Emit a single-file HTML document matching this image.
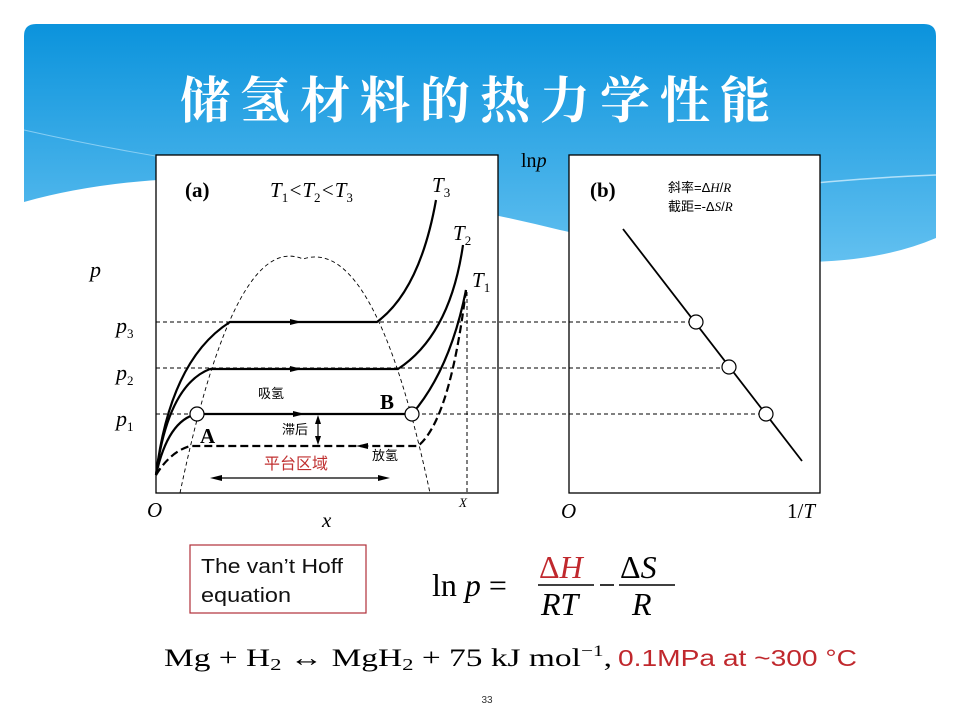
<!DOCTYPE html>
<html><head><meta charset="utf-8"><style>
body{margin:0;background:#fff;}
svg{display:block;}
.ser{font-family:"Liberation Serif","Noto Serif CJK SC",serif;}
.cjk{font-family:"Liberation Sans","Noto Sans CJK SC",sans-serif;}
</style></head><body>
<svg width="960" height="720" viewBox="0 0 960 720" xmlns="http://www.w3.org/2000/svg">
<defs>
<linearGradient id="bg" x1="0" y1="0" x2="0" y2="1">
<stop offset="0" stop-color="#0b93dc"/><stop offset="1" stop-color="#62c0f0"/>
</linearGradient>
</defs>
<path d="M36,24 H924 Q936,24 936,36 V238 Q880,262 800,262 Q650,250 560,230 Q420,195 250,178 Q120,175 24,202 V36 Q24,24 36,24Z" fill="url(#bg)"/>
<path d="M640,205 Q800,180 936,175" stroke="#cfeefc" stroke-width="1.5" fill="none" opacity=".8"/>
<path d="M24,130 Q200,170 420,190" stroke="#bde6fb" stroke-width="1" fill="none" opacity=".6"/>
<text x="480" y="118" text-anchor="middle" font-size="50" fill="#fff" style="font-family:'Noto Serif CJK SC','WenQuanYi Zen Hei',serif;letter-spacing:10px" font-weight="bold">储氢材料的热力学性能</text>

<rect x="156" y="155" width="342" height="338" fill="#fff" stroke="#000" stroke-width="1.3"/>
<rect x="569" y="155" width="251" height="338" fill="#fff" stroke="#000" stroke-width="1.3"/>
<g stroke="#000" stroke-width="1" stroke-dasharray="4,3" fill="none">
<line x1="156" y1="322" x2="696" y2="322"/>
<line x1="156" y1="368" x2="729" y2="368"/>
<line x1="156" y1="414" x2="766" y2="414"/>
<line x1="467" y1="292" x2="467" y2="493"/>
<path d="M180,493 Q235,230 303,259 Q375,235 430,493" stroke-width="0.9"/>
</g>
<g stroke="#000" stroke-width="2.2" fill="none">
<path d="M156,475 Q170,360 230,322 L377,322 Q420,290 436,200"/>
<path d="M156,475 Q168,385 210,369 L398,369 Q450,335 463,245"/>
<path d="M156,475 Q168,420 197,414 L412,414 Q450,370 466,290"/>
<path d="M156,475 Q170,452 190,446 L418,446 Q450,420 466,290" stroke-dasharray="8,4"/>
</g>
<g stroke="#000" stroke-width="1.2" fill="none">
<line x1="318" y1="418" x2="318" y2="442"/>
<line x1="216" y1="478" x2="384" y2="478"/>
<line x1="623" y1="229" x2="802" y2="461" stroke-width="1.8"/>
</g>
<g fill="#000">
<path d="M290,319 L302,322 L290,325z"/>
<path d="M290,366 L302,369 L290,372z"/>
<path d="M293,411 L305,414 L293,417z"/>
<path d="M368,443 L356,446 L368,449z"/>
<path d="M315,424 L318,415 L321,424z"/>
<path d="M315,436 L318,445 L321,436z"/>
<path d="M222,475 L210,478 L222,481z"/>
<path d="M378,475 L390,478 L378,481z"/>
</g>
<g fill="#fff" stroke="#000" stroke-width="1.2">
<circle cx="197" cy="414" r="7"/><circle cx="412" cy="414" r="7"/>
<circle cx="696" cy="322" r="7"/><circle cx="729" cy="367" r="7"/><circle cx="766" cy="414" r="7"/>
</g>
<g class="ser" fill="#000">
<text x="185" y="197" font-size="21" font-weight="bold">(a)</text>
<text x="590" y="197" font-size="21" font-weight="bold">(b)</text>
<text x="270" y="197" font-size="21" font-style="italic">T<tspan font-size="13" dy="5" font-style="normal">1</tspan><tspan dy="-5">&lt;T</tspan><tspan font-size="13" dy="5" font-style="normal">2</tspan><tspan dy="-5">&lt;T</tspan><tspan font-size="13" dy="5" font-style="normal">3</tspan></text>
<text x="432" y="192" font-size="21" font-style="italic">T<tspan font-size="13" dy="5" font-style="normal">3</tspan></text>
<text x="453" y="240" font-size="21" font-style="italic">T<tspan font-size="13" dy="5" font-style="normal">2</tspan></text>
<text x="472" y="287" font-size="21" font-style="italic">T<tspan font-size="13" dy="5" font-style="normal">1</tspan></text>
<text x="200" y="443" font-size="21" font-weight="bold">A</text>
<text x="380" y="409" font-size="21" font-weight="bold">B</text>
<text x="90" y="277" font-size="22" font-style="italic">p</text>
<text x="116" y="333" font-size="22" font-style="italic">p<tspan font-size="13" dy="5" font-style="normal">3</tspan></text>
<text x="116" y="380" font-size="22" font-style="italic">p<tspan font-size="13" dy="5" font-style="normal">2</tspan></text>
<text x="116" y="426" font-size="22" font-style="italic">p<tspan font-size="13" dy="5" font-style="normal">1</tspan></text>
<text x="147" y="517" font-size="21" font-style="italic">O</text>
<text x="322" y="527" font-size="21" font-style="italic">x</text>
<text x="459" y="507" font-size="13" font-style="italic">X</text>
<text x="521" y="167" font-size="20">ln<tspan font-style="italic">p</tspan></text>
<text x="561" y="518" font-size="21" font-style="italic">O</text>
<text x="787" y="518" font-size="21">1/<tspan font-style="italic">T</tspan></text>
</g>
<g class="cjk" font-size="13" fill="#000">
<text x="258" y="398">吸氢</text>
<text x="282" y="434">滞后</text>
<text x="372" y="460">放氢</text>
<text x="668" y="192">斜率=Δ<tspan class="ser" font-style="italic">H</tspan>/<tspan class="ser" font-style="italic">R</tspan></text>
<text x="668" y="211">截距=-Δ<tspan class="ser" font-style="italic">S</tspan>/<tspan class="ser" font-style="italic">R</tspan></text>
</g>
<text x="264" y="469" class="cjk" font-size="16" fill="#c03030">平台区域</text>

<rect x="190" y="545" width="176" height="68" fill="#fff" stroke="#b0303a" stroke-width="1.2"/>
<g class="cjk" font-size="20" fill="#111"><text x="201" y="573" textLength="142" lengthAdjust="spacingAndGlyphs">The van’t Hoff</text><text x="201" y="602" textLength="90" lengthAdjust="spacingAndGlyphs">equation</text></g>
<g class="ser" font-size="32" fill="#000">
<text x="432" y="596">ln <tspan font-style="italic">p</tspan> =</text>
<text x="539" y="578" fill="#c0282d">Δ<tspan font-style="italic">H</tspan></text>
<line x1="538" y1="585" x2="594" y2="585" stroke="#000" stroke-width="1.6"/>
<text x="541" y="615" font-style="italic">RT</text>
<line x1="600" y1="585" x2="614" y2="585" stroke="#000" stroke-width="1.6"/>
<text x="620" y="578">Δ<tspan font-style="italic">S</tspan></text>
<line x1="619" y1="585" x2="675" y2="585" stroke="#000" stroke-width="1.6"/>
<text x="632" y="615" font-style="italic">R</text>
</g>
<text x="164" y="666" class="ser" font-size="25" fill="#000" textLength="448" lengthAdjust="spacingAndGlyphs">Mg + H<tspan font-size="17" dy="4">2</tspan><tspan dy="-4"> ↔ MgH</tspan><tspan font-size="17" dy="4">2</tspan><tspan dy="-4"> + 75 kJ mol</tspan><tspan font-size="16" dy="-10">−1</tspan><tspan dy="10">,</tspan></text>
<text x="618" y="666" font-size="23" fill="#c0282d" style="font-family:'Liberation Sans',sans-serif" textLength="239" lengthAdjust="spacingAndGlyphs">0.1MPa at ~300 °C</text>
<text x="487" y="703" text-anchor="middle" class="cjk" font-size="10" fill="#333">33</text>
</svg>
</body></html>
